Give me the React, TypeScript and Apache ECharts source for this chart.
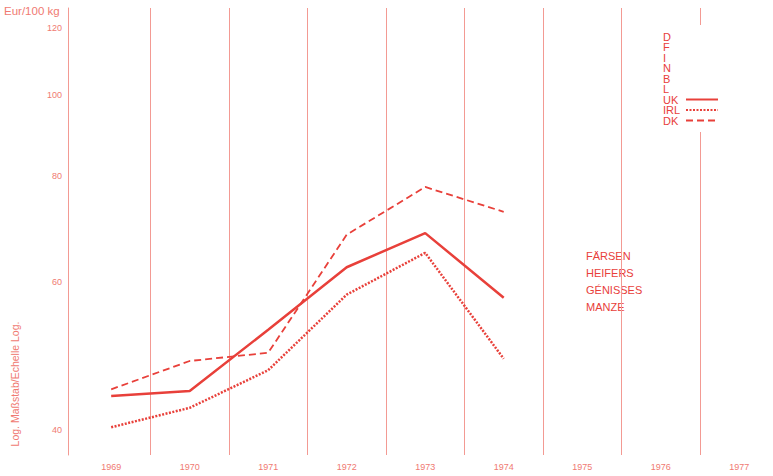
import React, { useEffect, useRef } from "react";
import * as echarts from "echarts";

const years = [1969, 1970, 1971, 1972, 1973, 1974, 1975, 1976, 1977];
const dataYears = [1969, 1970, 1971, 1972, 1973, 1974];
const ukValues = [43.9, 44.5, 52.6, 62.4, 68.5, 57.4];
const irlValues = [40.3, 42.5, 47.1, 57.9, 64.9, 48.6];
const dkValues = [44.7, 48.3, 49.4, 68.2, 77.7, 72.6];
const yTicks = [40, 60, 80, 100, 120];
const otherCountries = ["D", "F", "I", "N", "B", "L"];
const unitLabel = "Eur/100 kg";
const scaleLabel = "Log. Maßstab/Echelle Log.";
const titleLines = ["FÄRSEN", "HEIFERS", "GÉNISSES", "MANZE"];

const LINE = "#e8403a";
const GRID = "#f39a93";
const TEXT = "#f07a72";
const FONT = "'Liberation Sans', Arial, sans-serif";

export default function App() {
  const ref = useRef<HTMLDivElement>(null);
  useEffect(() => {
    document.body.style.margin = "0";
    const chart = echarts.init(ref.current!, undefined, { renderer: "svg" });
    const boundaries = years.slice(0, -1).map((y) => y + 0.5);
    const mk = (vals: number[]) => dataYears.map((y, i) => [y, vals[i]]);
    const option: any = {
      animation: false,
      backgroundColor: "#ffffff",
      textStyle: { fontFamily: FONT },
      grid: { left: 68, right: 0, top: 8, bottom: 21 },
      xAxis: {
        type: "value",
        min: 1968.45,
        max: 1977.43,
        axisLine: { show: false },
        axisTick: { show: false },
        splitLine: { show: false },
        axisLabel: {
          customValues: years,
          formatter: (v: number) => String(v),
          color: TEXT,
          fontSize: 9,
          margin: 7,
          fontFamily: FONT,
        },
      },
      yAxis: {
        type: "log",
        logBase: 10,
        min: 37.36,
        max: 126.7,
        axisLine: { show: true, lineStyle: { color: GRID, width: 1 } },
        axisTick: { show: false },
        splitLine: { show: false },
        axisLabel: {
          customValues: yTicks,
          formatter: (v: number) => String(Math.round(v)),
          color: TEXT,
          fontSize: 9,
          margin: 6,
          fontFamily: FONT,
        },
      },
      legend: {
        orient: "vertical",
        left: 658,
        top: 26,
        z: 110,
        selectedMode: false,
        align: "right",
        itemWidth: 32,
        itemHeight: 8,
        itemGap: -0.5,
        itemStyle: { opacity: 0 },
        formatter: (n: string) => "{a|" + n + "}",
        textStyle: {
          color: LINE,
          fontSize: 11,
          fontFamily: FONT,
          rich: { a: { width: 18, align: "left", fontSize: 11, color: LINE, lineHeight: 10, fontFamily: FONT } },
        },
        data: [
          ...otherCountries.map((n) => ({ name: n, itemStyle: { opacity: 0 }, lineStyle: { opacity: 0 } })),
          "UK",
          "IRL",
          "DK",
        ],
      },
      graphic: [
        { type: "rect", z: 100, shape: { x: 655, y: 25, width: 72, height: 107 }, style: { fill: "#ffffff" } },
        { type: "text", left: 4, top: 5, style: { text: unitLabel, fill: TEXT, fontSize: 11.5, fontFamily: FONT } },
        {
          type: "text",
          x: 15,
          y: 384,
          rotation: Math.PI / 2,
          style: { text: scaleLabel, fill: TEXT, fontSize: 10.5, fontFamily: FONT, align: "center", verticalAlign: "middle" },
        },
        {
          type: "text",
          x: 586,
          y: 247,
          style: { text: titleLines.join("\n"), fill: LINE, fontSize: 11, lineHeight: 17, fontFamily: FONT },
        },
      ],
      series: [
        ...otherCountries.map((n) => ({
          name: n,
          type: "line",
          data: [],
          symbol: "none",
          color: LINE,
          lineStyle: { opacity: 0 },
        })),
        {
          name: "UK",
          type: "line",
          data: mk(ukValues),
          symbol: "none",
          color: LINE,
          lineStyle: { color: LINE, width: 2.5 },
          z: 5,
          markLine: {
            silent: true,
            symbol: ["none", "none"],
            label: { show: false },
            lineStyle: { color: GRID, width: 1, type: "solid" },
            data: boundaries.map((b) => ({ xAxis: b })),
            z: 1,
          },
        },
        {
          name: "IRL",
          type: "line",
          data: mk(irlValues),
          symbol: "none",
          color: LINE,
          lineStyle: { color: LINE, width: 2.5, type: [2, 1.5] },
          z: 5,
        },
        {
          name: "DK",
          type: "line",
          data: mk(dkValues),
          symbol: "none",
          color: LINE,
          lineStyle: { color: LINE, width: 1.8, type: [7, 4] },
          z: 5,
        },
      ],
    };
    chart.setOption(option);
    return () => chart.dispose();
  }, []);
  return <div ref={ref} style={{ width: 773, height: 476 }} />;
}
